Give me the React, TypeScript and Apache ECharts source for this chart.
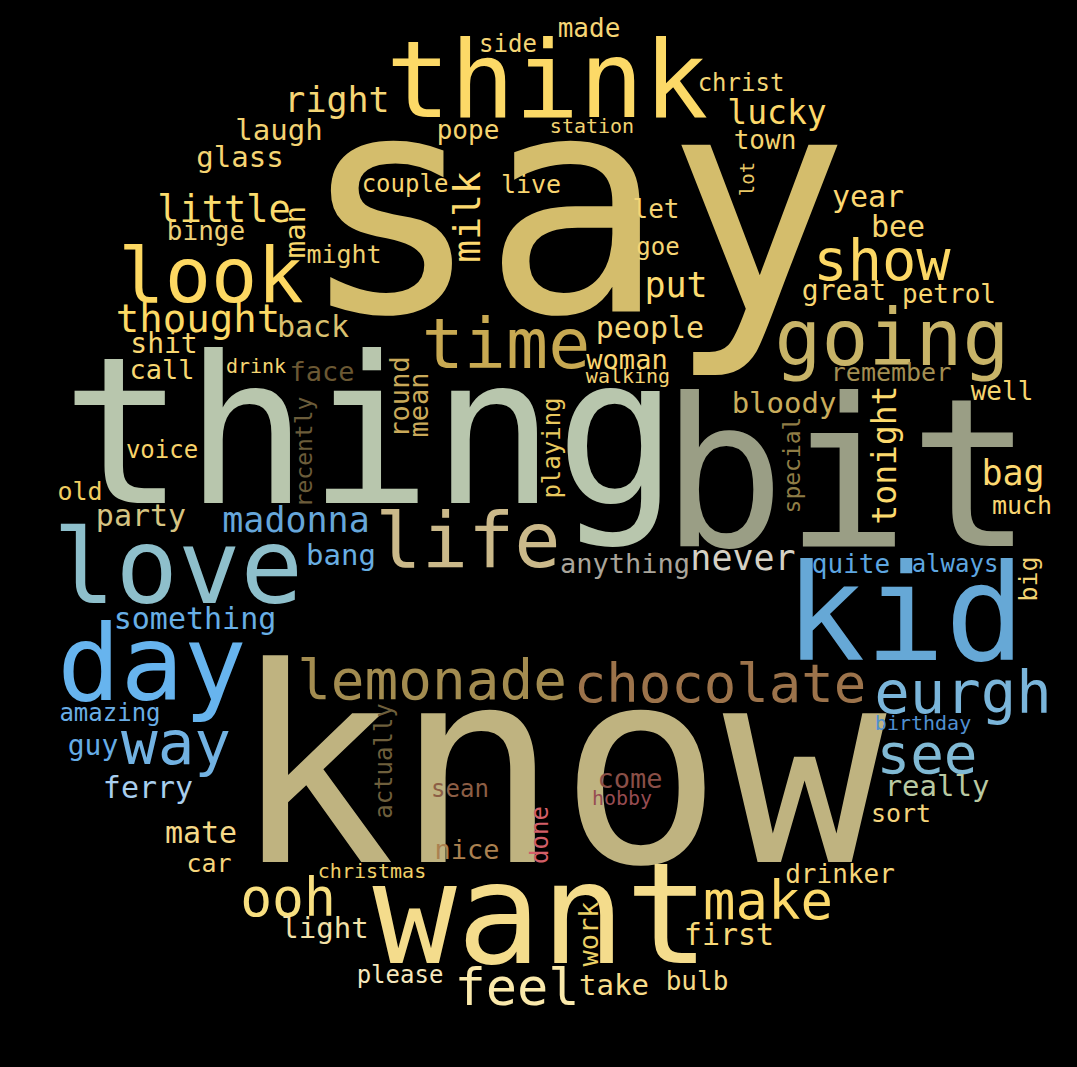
import { useEffect, useRef } from 'react';
import * as echarts from 'echarts';

// [word, x, y, font size, colour] - x/y are the word centres in the 1077x1067 cloud
type Word = [string, number, number, number, string];

// the big ones
const bigWords: Word[] = [
  ['say', 574, 206, 305, '#d4bd6c'],
  ['know', 559, 768, 272, '#bfb380'],
  ['bit', 847, 475, 206, '#9a9e85'],
  ['thing', 370, 432, 205, '#b8c6ad'],
  ['want', 541, 914, 140, '#f4dc8c'],
  ['kid', 905, 614, 133, '#66a8d6'],
  ['think', 547, 80, 107, '#fcd967'],
  ['day', 152, 664, 105, '#67b4ee'],
  ['love', 178, 567, 104, '#8ebfcb'],
];

const midWords: Word[] = [
  ['going', 892, 338, 78, '#c8b468'],
  ['look', 211, 275, 77, '#fdd862'],
  ['life', 468, 540, 77, '#cbb98a'],
  ['time', 506, 344, 70, '#c8a952'],
  ['way', 176, 742, 61, '#72b2e2'],
  ['eurgh', 963, 692, 59, '#7ab5da'],
  ['show', 882, 260, 57, '#fcd865'],
  ['lemonade', 432, 679, 56, '#a38c50'],
  ['see', 927, 753, 56, '#80b9d4'],
  ['chocolate', 720, 683, 54, '#9c734b'],
  ['make', 768, 900, 54, '#fcd96b'],
  ['ooh', 288, 897, 53, '#f8df80'],
  ['feel', 517, 987, 52, '#fae9ab'],
  ['thought', 198, 318, 39, '#fcd965'],
  ['little', 224, 209, 37, '#fbdc6e'],
  ['never', 743, 558, 35, '#d5d1c5'],
  ['madonna', 296, 520, 35, '#66a6da'],
  ['right', 337, 100, 35, '#f5d575'],
  ['put', 676, 285, 35, '#fddb70'],
  ['bag', 1013, 473, 35, '#fcd870'],
  ['lucky', 777, 112, 33, '#fcd86a'],
];

const smallWords: Word[] = [
  ['back', 313, 326, 30, '#d9c070'],
  ['people', 650, 327, 30, '#f6d777'],
  ['something', 195, 618, 30, '#68afe6'],
  ['party', 141, 515, 30, '#d6c482'],
  ['ferry', 148, 787, 30, '#a8ceee'],
  ['bee', 898, 226, 30, '#f8d670'],
  ['year', 868, 196, 30, '#fcd872'],
  ['mate', 201, 832, 30, '#f5d988'],
  ['first', 729, 934, 30, '#f8d878'],
  ['bang', 341, 555, 29, '#68aee2'],
  ['bloody', 784, 403, 29, '#c9ad5c'],
  ['laugh', 279, 130, 29, '#f2d373'],
  ['light', 325, 928, 29, '#f3e1a8'],
  ['take', 614, 985, 29, '#f8dd8a'],
  ['really', 937, 786, 29, '#b9c9a2'],
  ['glass', 240, 157, 29, '#f5d472'],
  ['shit', 164, 343, 28, '#f8d772'],
  ['guy', 93, 745, 28, '#66ace6'],
  ['great', 844, 290, 28, '#f8d672'],
  ['face', 322, 371, 27, '#6b5833'],
  ['come', 630, 778, 27, '#8a4f47'],
  ['woman', 627, 359, 27, '#fcd670'],
  ['anything', 625, 563, 27, '#aaa59b'],
  ['call', 162, 369, 27, '#f8d872'],
  ['nice', 467, 849, 27, '#ab8150'],
  ['binge', 206, 231, 26, '#eed078'],
  ['let', 656, 209, 26, '#f5d575'],
  ['drinker', 840, 874, 26, '#f6d67a'],
  ['pope', 468, 130, 26, '#f5d470'],
  ['town', 765, 140, 26, '#f5d470'],
  ['well', 1002, 391, 26, '#f5d570'],
  ['bulb', 697, 981, 26, '#f6da88'],
  ['petrol', 949, 294, 26, '#f8d670'],
  ['made', 589, 28, 26, '#f5d575'],
  ['quite', 851, 564, 26, '#5ea6e0'],
  ['might', 344, 254, 25, '#f0d070'],
  ['live', 531, 184, 25, '#f8d570'],
  ['remember', 891, 372, 25, '#a38e52'],
  ['sort', 901, 813, 25, '#f3d47c'],
  ['old', 80, 491, 25, '#f0cd60'],
  ['car', 209, 863, 25, '#f6d67c'],
  ['much', 1022, 505, 25, '#f8d672'],
  ['goe', 658, 247, 24, '#f5d575'],
  ['voice', 162, 450, 24, '#f8d36a'],
  ['christ', 741, 83, 24, '#f3d575'],
  ['amazing', 110, 713, 24, '#6aaee6'],
  ['sean', 460, 789, 24, '#8c5e45'],
  ['please', 400, 975, 24, '#f5e7bd'],
  ['couple', 405, 184, 24, '#f8d570'],
  ['always', 955, 564, 24, '#5ea6e0'],
  ['side', 508, 44, 24, '#f5d575'],
  ['station', 592, 126, 20, '#f2d272'],
  ['walking', 628, 376, 20, '#f5d372'],
  ['drink', 256, 366, 20, '#f5d572'],
  ['hobby', 622, 798, 20, '#974c52'],
  ['christmas', 372, 871, 20, '#efcf68'],
  ['birthday', 923, 723, 20, '#508fd0'],
];

// written bottom to top
const rotatedWords: Word[] = [
  ['milk', 467, 217, 38, '#fcd970'],
  ['tonight', 884, 455, 33, '#fcda6e'],
  ['man', 295, 232, 29, '#f8d86d'],
  ['round', 399, 397, 27, '#c9a95a'],
  ['mean', 418, 405, 27, '#c9a95a'],
  ['work', 588, 934, 27, '#ead065'],
  ['big', 1028, 579, 25, '#f2d272'],
  ['playing', 552, 448, 24, '#e8c85e'],
  ['actually', 384, 761, 24, '#6e5f3c'],
  ['done', 540, 835, 24, '#d25f68'],
  ['special', 792, 465, 23, '#8f7d46'],
  ['recently', 304, 452, 23, '#6b5c3a'],
  ['lot', 747, 179, 19, '#e8c868'],
];

function App() {
  const chartRef = useRef<HTMLDivElement>(null);

  useEffect(() => {
    document.body.style.margin = '0';
    document.body.style.background = '#000';
    if (!chartRef.current) return;

    const chart = echarts.init(chartRef.current, null, { renderer: 'svg' });

    const toItem = (w: Word, rotate: number) => ({
      name: w[0],
      value: [w[1], w[2]],
      label: { fontSize: w[3], color: w[4], rotate },
    });

    const data = [
      ...bigWords.map((w) => toItem(w, 0)),
      ...midWords.map((w) => toItem(w, 0)),
      ...smallWords.map((w) => toItem(w, 0)),
      ...rotatedWords.map((w) => toItem(w, 90)),
    ];

    chart.setOption({
      animation: false,
      backgroundColor: '#000',
      grid: { left: 0, right: 0, top: 0, bottom: 0 },
      xAxis: { type: 'value', min: 0, max: 1077, show: false },
      yAxis: { type: 'value', min: 0, max: 1067, inverse: true, show: false },
      series: [
        {
          type: 'scatter',
          symbolSize: 0,
          silent: true,
          clip: false,
          // scatter defaults to 0.8 opacity, which also dims the labels
          itemStyle: { color: 'rgba(0,0,0,0)', opacity: 1 },
          emphasis: { disabled: true },
          label: {
            show: true,
            position: 'inside',
            formatter: '{b}',
            fontFamily: 'DejaVu Sans Mono',
            align: 'center',
            verticalAlign: 'middle',
            opacity: 1,
          },
          data,
        },
      ],
    });

    return () => {
      chart.dispose();
    };
  }, []);

  return <div ref={chartRef} style={{ width: 1077, height: 1067, background: '#000' }} />;
}

export default App;
